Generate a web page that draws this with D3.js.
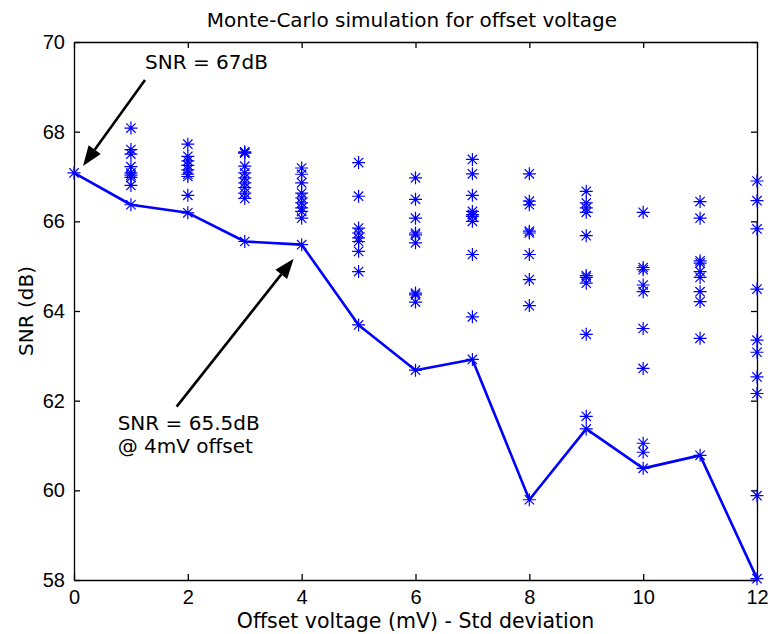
<!DOCTYPE html>
<html>
<head>
<meta charset="utf-8">
<script src="https://cdn.jsdelivr.net/npm/d3@7"></script>
<style>
  html, body { margin: 0; padding: 0; background: #fff; }
  svg text { font-family: "DejaVu Sans", sans-serif; fill: #000; }
  .tick text { font-family: "Liberation Sans", Arial, sans-serif; font-size: 20px; }
</style>
</head>
<body>
<svg id="chart" width="768" height="634"></svg>
<script>
// offsets (mV std deviation) on the x axis
var offsets = [0, 1, 2, 3, 4, 5, 6, 7, 8, 9, 10, 11, 12];

// worst-case SNR per offset (the connected line)
var worstSNR = [67.08, 66.37, 66.19, 65.55, 65.48, 63.69, 62.68, 62.92, 59.79, 61.37, 60.49, 60.78, 58.03];

// remaining Monte-Carlo runs per offset (dB)
var runs0 = [];
var runs1 = [68.08, 67.6, 67.5, 67.22, 67.08, 67.03, 66.98, 66.8];
var runs2 = [67.72, 67.45, 67.35, 67.25, 67.15, 67.05, 67.0, 66.58];
var runs3 = [67.55, 67.53, 67.52, 67.23, 67.08, 66.97, 66.86, 66.75, 66.63, 66.51];
var runs4 = [67.19, 67.05, 66.86, 66.63, 66.52, 66.41, 66.3, 66.22, 66.07];
var runs5 = [67.31, 66.56, 65.85, 65.74, 65.63, 65.55, 65.33, 64.88];
var runs6 = [66.97, 66.49, 66.07, 65.74, 65.7, 65.52, 64.4, 64.36, 64.2];
var runs7 = [67.38, 67.06, 66.58, 66.22, 66.15, 66.11, 66.0, 65.26, 63.87];
var runs8 = [67.06, 66.45, 66.37, 65.78, 65.74, 65.26, 64.7, 64.12];
var runs9 = [66.67, 66.41, 66.3, 66.2, 65.68, 64.79, 64.75, 64.62, 63.48, 61.65];
var runs10 = [66.2, 64.97, 64.92, 64.58, 64.43, 63.61, 62.72, 61.05, 60.85];
var runs11 = [66.44, 66.07, 65.12, 65.07, 64.88, 64.75, 64.43, 64.21, 63.39];
var runs12 = [66.9, 66.46, 65.83, 64.49, 63.35, 63.08, 62.53, 62.16, 59.88];

var xTicks = [0, 2, 4, 6, 8, 10, 12];
var yTicks = [58, 60, 62, 64, 66, 68, 70];

var allRuns = [runs0, runs1, runs2, runs3, runs4, runs5, runs6, runs7, runs8, runs9, runs10, runs11, runs12];

var margin = { top: 42, right: 11, bottom: 54, left: 74 };
var width = 768 - margin.left - margin.right;
var height = 634 - margin.top - margin.bottom;
var blue = "#0000ff";

var svg = d3.select("#chart");
var g = svg.append("g").attr("transform", "translate(" + margin.left + "," + margin.top + ")");

var x = d3.scaleLinear().domain([0, 12]).range([0, width]);
var y = d3.scaleLinear().domain([58, 70]).range([height, 0]);

// axes box, ticks pointing inward on all four sides
g.append("g").attr("transform", "translate(0," + height + ")")
  .call(d3.axisBottom(x).tickValues(xTicks).tickSizeInner(-6).tickSizeOuter(0).tickPadding(10));
g.append("g")
  .call(d3.axisTop(x).tickValues(xTicks).tickSizeInner(-6).tickSizeOuter(0).tickFormat(""));
g.append("g")
  .call(d3.axisLeft(y).tickValues(yTicks).tickSizeInner(-6).tickSizeOuter(0).tickPadding(9));
g.append("g").attr("transform", "translate(" + width + ",0)")
  .call(d3.axisRight(y).tickValues(yTicks).tickSizeInner(-6).tickSizeOuter(0).tickFormat(""));
g.selectAll(".domain").attr("stroke", "#000").attr("stroke-width", 1.3);
g.selectAll(".tick line").attr("stroke", "#000").attr("stroke-width", 1.3);

// worst-case line
var line = d3.line().x(function(d, i) { return x(offsets[i]); }).y(function(d) { return y(d); });
g.append("path").datum(worstSNR)
  .attr("d", line).attr("fill", "none").attr("stroke", blue).attr("stroke-width", 2.6)
  .attr("stroke-linejoin", "round");

// star markers
var s = 6.5, k = s * 0.72;
var starPath = "M" + (-s) + ",0L" + s + ",0M0," + (-s) + "L0," + s +
  "M" + (-k) + "," + (-k) + "L" + k + "," + k + "M" + (-k) + "," + k + "L" + k + "," + (-k);

var pts = [];
allRuns.forEach(function(arr, i) {
  arr.forEach(function(v) { pts.push([offsets[i], v]); });
});
worstSNR.forEach(function(v, i) { pts.push([offsets[i], v]); });

g.selectAll(".star").data(pts).enter().append("path")
  .attr("class", "star")
  .attr("transform", function(d) { return "translate(" + x(d[0]) + "," + y(d[1]) + ")"; })
  .attr("d", starPath)
  .attr("fill", "none").attr("stroke", blue).attr("stroke-width", 1.2);

// arrows
function arrow(x1, y1, x2, y2) {
  var ang = Math.atan2(y2 - y1, x2 - x1);
  var len = 20, half = 7.5;
  var bx = x2 - len * Math.cos(ang), by = y2 - len * Math.sin(ang);
  g.append("line").attr("x1", x1).attr("y1", y1).attr("x2", bx).attr("y2", by)
    .attr("stroke", "#000").attr("stroke-width", 2.6);
  var px = -Math.sin(ang) * half, py = Math.cos(ang) * half;
  g.append("path")
    .attr("d", "M" + x2 + "," + y2 + "L" + (bx + px) + "," + (by + py) + "L" + (bx - px) + "," + (by - py) + "Z")
    .attr("fill", "#000");
}

var p0x = x(offsets[0]), p0y = y(worstSNR[0]);
arrow(p0x + 71, p0y - 93, p0x + 9, p0y - 7);
g.append("text").attr("x", p0x + 71).attr("y", p0y - 104)
  .attr("font-size", 20).text("SNR = 67dB");

var p4x = x(offsets[4]), p4y = y(worstSNR[4]);
arrow(p4x - 125, p4y + 162, p4x - 8, p4y + 14);
g.append("text").attr("x", p4x - 184).attr("y", p4y + 185)
  .attr("font-size", 20).text("SNR = 65.5dB");
g.append("text").attr("x", p4x - 184).attr("y", p4y + 208)
  .attr("font-size", 20).text("@ 4mV offset");

// title and axis labels
svg.append("text").attr("x", 412).attr("y", 27)
  .attr("text-anchor", "middle").attr("font-size", 20)
  .text("Monte-Carlo simulation for offset voltage");
svg.append("text").attr("x", margin.left + width / 2).attr("y", 628)
  .attr("text-anchor", "middle").attr("font-size", 20.5)
  .text("Offset voltage (mV) - Std deviation");
svg.append("text")
  .attr("transform", "translate(33," + (margin.top + height / 2) + ") rotate(-90)")
  .attr("text-anchor", "middle").attr("font-size", 20)
  .text("SNR (dB)");
</script>
</body>
</html>
